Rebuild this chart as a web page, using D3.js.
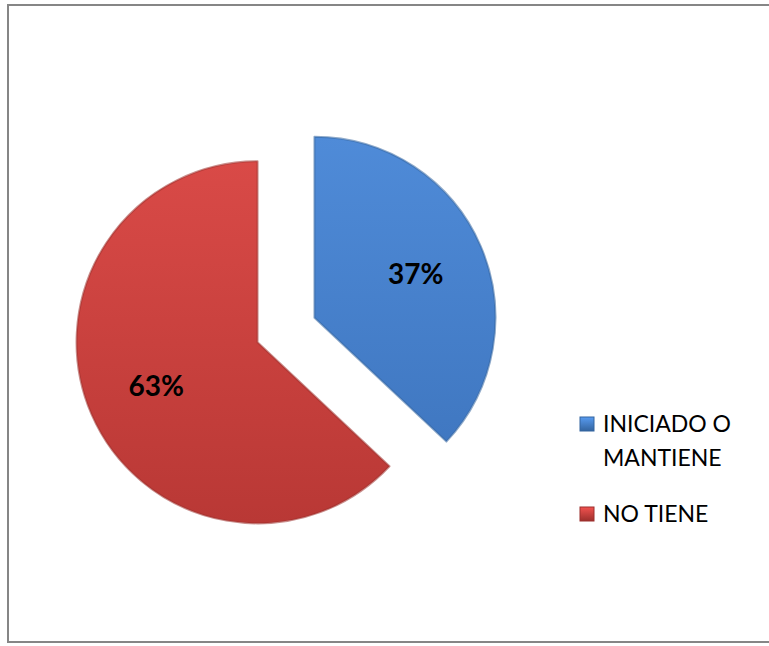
<!DOCTYPE html>
<html>
<head>
<meta charset="utf-8">
<script src="https://cdn.jsdelivr.net/npm/d3@7"></script>
<style>
  body { margin: 0; background: #fff; }
  svg { display: block; }
</style>
</head>
<body>
<div id="chart"></div>
<script>
// data
const categories = ["INICIADO O MANTIENE", "NO TIENE"];
const values = [37, 63];
const legendLines = [["INICIADO O", "MANTIENE"], ["NO TIENE"]];

const width = 769, height = 646;
const cx = 286, cy = 330, radius = 181, explode = 31;
const topColor = ["#4f8bd8", "#d94a47"];
const bottomColor = ["#3d74bd", "#b93835"];
const dark = ["#33649f", "#9c2f2c"];

const svg = d3.select("#chart").append("svg")
    .attr("width", width)
    .attr("height", height);

// chart border
svg.append("rect")
    .attr("x", 8).attr("y", 5)
    .attr("width", width + 10).attr("height", 637)
    .attr("fill", "#fff")
    .attr("stroke", "#868686")
    .attr("stroke-width", 2);

const defs = svg.append("defs");
topColor.forEach((c, i) => {
    const g = defs.append("linearGradient")
        .attr("id", "grad" + i)
        .attr("gradientUnits", "userSpaceOnUse")
        .attr("x1", 0).attr("y1", -radius).attr("x2", 0).attr("y2", radius);
    g.append("stop").attr("offset", "0%").attr("stop-color", c);
    g.append("stop").attr("offset", "100%").attr("stop-color", bottomColor[i]);
    const lg = defs.append("linearGradient")
        .attr("id", "leg" + i)
        .attr("x1", 0).attr("y1", 0).attr("x2", 0).attr("y2", 1);
    lg.append("stop").attr("offset", "0%").attr("stop-color", d3.color(c).brighter(0.3));
    lg.append("stop").attr("offset", "100%").attr("stop-color", dark[i]);
});

const pie = d3.pie().sort(null).value(d => d);
const arcs = pie(values);
const arc = d3.arc().innerRadius(0).outerRadius(radius);
const labelArc = d3.arc().innerRadius(radius * 0.61).outerRadius(radius * 0.61);

const slices = svg.append("g")
    .selectAll("g")
    .data(arcs)
    .enter().append("g")
    .attr("transform", d => {
        const a = (d.startAngle + d.endAngle) / 2;
        return "translate(" + (cx + Math.sin(a) * explode) + "," + (cy - Math.cos(a) * explode) + ")";
    });

slices.append("path")
    .attr("d", arc)
    .attr("fill", (d, i) => "url(#grad" + i + ")")
    .attr("stroke", (d, i) => dark[i])
    .attr("stroke-opacity", 0.55)
    .attr("stroke-width", 2)
    .attr("stroke-linejoin", "round");

slices.append("text")
    .attr("transform", d => "translate(" + labelArc.centroid(d) + ")")
    .attr("text-anchor", "middle")
    .attr("dy", "0.36em")
    .attr("font-family", "Lato, 'Open Sans', sans-serif")
    .attr("font-weight", "bold")
    .attr("font-size", "28px")
    .attr("fill", "#000")
    .text(d => d.data + "%");

// legend
const legendY = [424, 514];
const legend = svg.append("g")
    .selectAll("g")
    .data(categories)
    .enter().append("g")
    .attr("transform", (d, i) => "translate(580," + legendY[i] + ")");

legend.append("rect")
    .attr("x", 0).attr("y", -7)
    .attr("width", 14).attr("height", 14)
    .attr("fill", (d, i) => "url(#leg" + i + ")")
    .attr("stroke", (d, i) => dark[i])
    .attr("stroke-width", 1);

legend.append("text")
    .attr("x", 23)
    .attr("y", 8)
    .attr("font-family", "Lato, 'Open Sans', sans-serif")
    .attr("font-size", "23px")
    .attr("fill", "#000")
    .selectAll("tspan")
    .data((d, i) => legendLines[i])
    .enter().append("tspan")
    .attr("x", 23)
    .attr("dy", (d, j) => j === 0 ? 0 : 34)
    .text(d => d);
</script>
</body>
</html>
